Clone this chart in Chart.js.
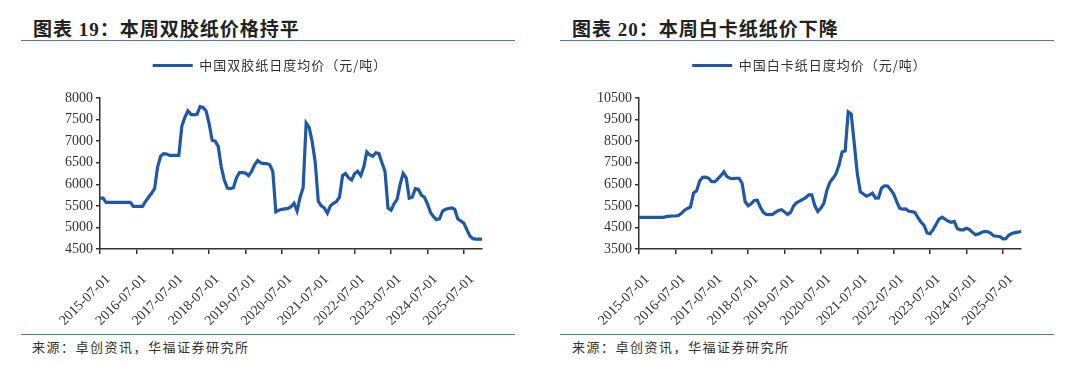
<!DOCTYPE html>
<html>
<head>
<meta charset="utf-8">
<script src="https://cdn.jsdelivr.net/npm/chart.js@4"></script>
<style>
  html, body { margin: 0; padding: 0; background: #fff; }
  body { width: 1080px; height: 366px; position: relative; overflow: hidden; }
  .title { position: absolute; top: 14px; font-family: "Liberation Serif", "Noto Sans CJK SC"; font-weight: bold; font-size: 19px; color: #222; letter-spacing: 1px; white-space: nowrap; }
  .rule { position: absolute; height: 1px; background: #4f76b0; }
  .src { position: absolute; top: 337px; font-family: "Noto Sans CJK SC"; font-size: 13px; color: #333; letter-spacing: 1.5px; white-space: nowrap; }
  .box { position: absolute; top: 49px; width: 540px; height: 285px; }
</style>
</head>
<body>
<div class="title" style="left:33px">图表 19：本周双胶纸价格持平</div>
<div class="rule" style="left:21px; width:494px; top:40px"></div>
<div class="box" style="left:0px"><canvas id="chart1"></canvas></div>
<div class="rule" style="left:21px; width:494px; top:334px"></div>
<div class="src" style="left:32px">来源：卓创资讯，华福证券研究所</div>

<div class="title" style="left:572px">图表 20：本周白卡纸纸价下降</div>
<div class="rule" style="left:560px; width:494px; top:40px"></div>
<div class="box" style="left:540px"><canvas id="chart2"></canvas></div>
<div class="rule" style="left:560px; width:494px; top:334px"></div>
<div class="src" style="left:572px">来源：卓创资讯，华福证券研究所</div>

<script>
// 月度日期 2015-07-01 ~ 2026-01-01
const months = [];
for (let y = 2015, m = 7; ; m++) {
    if (m > 12) { m = 1; y++; }
    if (y === 2026 && m > 1) break;
    months.push(y + '-' + String(m).padStart(2, '0') + '-01');
}

// 中国双胶纸日度均价（元/吨）
const offsetPaper = [
    5680, 5680, 5580, 5580, 5580, 5580, 5580, 5580, 5580, 5580,
    5580, 5490, 5490, 5490, 5490, 5600, 5700, 5790, 5900, 6400,
    6650, 6710, 6700, 6670, 6670, 6670, 6670, 7350, 7550, 7700,
    7620, 7610, 7620, 7800, 7780, 7700, 7400, 7020, 7000, 6880,
    6400, 6100, 5910, 5900, 5920, 6150, 6270, 6270, 6260, 6200,
    6300, 6450, 6550, 6500, 6480, 6480, 6450, 6300, 5360, 5400,
    5420, 5430, 5440, 5480, 5560, 5380, 5700, 5920, 7420, 7320,
    6980, 6500, 5600, 5500, 5450, 5330, 5500, 5560, 5600, 5700,
    6200, 6250, 6150, 6100, 6250, 6300, 6200, 6400, 6750, 6680,
    6650, 6730, 6710, 6500, 6300, 5450, 5400, 5550, 5650, 6000,
    6250, 6150, 5680, 5700, 5900, 5880, 5750, 5700, 5550, 5350,
    5250, 5180, 5200, 5380, 5420, 5440, 5450, 5420, 5200, 5150,
    5100, 4950, 4800, 4740, 4730, 4730, 4730
];

// 中国白卡纸日度均价（元/吨）
const ivoryBoard = [
    4970, 4970, 4970, 4970, 4970, 4970, 4970, 4970, 4970, 5000,
    5020, 5030, 5030, 5050, 5150, 5300, 5380, 5450, 6100, 6200,
    6650, 6820, 6830, 6780, 6620, 6620, 6750, 6900, 7080, 6860,
    6780, 6760, 6780, 6780, 6550, 5700, 5500, 5600, 5750, 5760,
    5450, 5200, 5100, 5090, 5100, 5200, 5290, 5320, 5220, 5100,
    5200, 5500, 5650, 5720, 5800, 5880, 6010, 6010, 5500, 5240,
    5400, 5630, 6240, 6600, 6780, 7000, 7400, 8000, 8050, 9850,
    9750, 8400, 7000, 6150, 6050, 5950, 6010, 6090, 5860, 5870,
    6330, 6430, 6420, 6250, 6050, 5700, 5380, 5350, 5360, 5250,
    5230, 5200, 4950, 4750, 4600, 4250, 4210, 4400, 4650, 4900,
    4980, 4880, 4780, 4740, 4780, 4450, 4390, 4390, 4460, 4400,
    4270, 4160, 4200, 4270, 4320, 4300, 4240, 4110, 4090, 4080,
    3970, 3980, 4150, 4220, 4260, 4280, 4320
];

const yTicks1 = [4500, 5000, 5500, 6000, 6500, 7000, 7500, 8000];
const yTicks2 = [3500, 4500, 5500, 6500, 7500, 8500, 9500, 10500];

const lineColor = '#1f58a5';
const axisColor = '#333';
const serif = '"Liberation Serif", "Times New Roman", serif';

Chart.defaults.font.family = serif;
Chart.defaults.color = '#333';

// 图例：下方留白、字距、右移
const legendTweak = {
    id: 'legendTweak',
    beforeLayout(chart) {
        const lg = chart.legend;
        if (lg && !lg._patched) {
            const fit = lg.fit, draw = lg.draw;
            lg.fit = function () {
                const old = this.ctx.letterSpacing;
                this.ctx.letterSpacing = '1px';
                fit.call(this);
                this.ctx.letterSpacing = old;
                this.height += 16;
            };
            lg.draw = function () {
                const c = this.ctx;
                c.save();
                c.letterSpacing = '1px';
                c.translate(29, 0);
                draw.call(this);
                c.restore();
            };
            lg._patched = true;
        }
    }
};

function makeChart(id, label, values, yTicks, yWidth, padRight) {
    return new Chart(document.getElementById(id), {
        type: 'line',
        data: {
            labels: months,
            datasets: [{
                label: label,
                data: values,
                borderColor: lineColor,
                backgroundColor: lineColor,
                borderWidth: 3.2,
                pointRadius: 0,
                tension: 0,
                fill: false
            }]
        },
        options: {
            responsive: true,
            maintainAspectRatio: false,
            animation: false,
            layout: { padding: { left: 0, right: padRight, top: 0, bottom: 0 } },
            plugins: {
                tooltip: { enabled: false },
                legend: {
                    display: true,
                    position: 'top',
                    labels: {
                        boxWidth: 40,
                        boxHeight: 3,
                        padding: 10,
                        color: '#333',
                        font: { family: '"Noto Sans CJK SC"', size: 13 },
                        generateLabels(chart) {
                            const items = Chart.defaults.plugins.legend.labels.generateLabels(chart);
                            items.forEach(it => { it.lineWidth = 0; });
                            return items;
                        }
                    }
                }
            },
            scales: {
                x: {
                    type: 'category',
                    offset: false,
                    border: { color: axisColor, width: 1.5 },
                    grid: { display: true, drawOnChartArea: false, drawTicks: true, tickLength: 5, color: axisColor, lineWidth: 1.5 },
                    ticks: {
                        autoSkip: false,
                        maxRotation: 45,
                        minRotation: 45,
                        padding: 17,
                        labelOffset: 8,
                        color: '#333',
                        font: { family: serif, size: 14 },
                        callback(value) {
                            const lab = this.getLabelForValue(value);
                            return lab.endsWith('-07-01') ? lab : null;
                        }
                    },
                    afterFit(scale) { scale.height = 85; }
                },
                y: {
                    min: yTicks[0],
                    max: yTicks[yTicks.length - 1],
                    afterBuildTicks(scale) { scale.ticks = yTicks.map(v => ({ value: v })); },
                    border: { color: axisColor, width: 1.5 },
                    grid: { display: true, drawOnChartArea: false, drawTicks: true, tickLength: 4, color: axisColor, lineWidth: 1.5 },
                    ticks: {
                        padding: 3,
                        color: '#333',
                        font: { family: serif, size: 14 },
                        callback(value) { return String(value); }
                    },
                    afterFit(scale) { scale.width = yWidth; }
                }
            }
        },
        plugins: [legendTweak]
    });
}

makeChart('chart1', '中国双胶纸日度均价（元/吨）', offsetPaper, yTicks1, 100, 58);
makeChart('chart2', '中国白卡纸日度均价（元/吨）', ivoryBoard, yTicks2, 99, 59);
</script>
</body>
</html>
